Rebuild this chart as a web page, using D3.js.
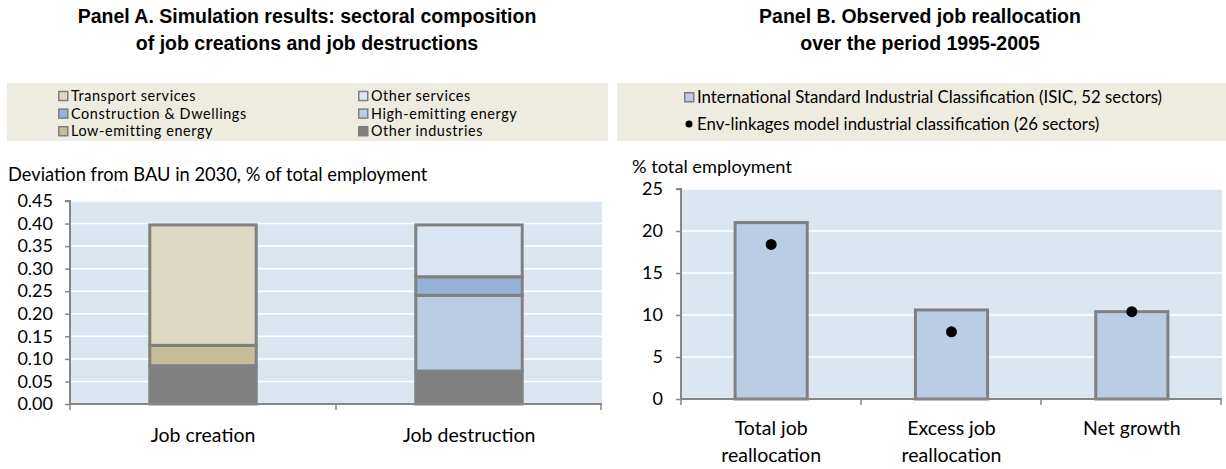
<!DOCTYPE html>
<html>
<head>
<meta charset="utf-8">
<script src="https://cdn.jsdelivr.net/npm/d3@7"></script>
<style>
body { margin:0; background:#fff; }
svg text { font-family: Lato, "Open Sans", sans-serif; fill:#000; }
svg text.title { font-family: "Liberation Sans", Arial, sans-serif; font-weight:bold; font-size:19.5px; }
</style>
</head>
<body>
<svg id="chart" width="1226" height="469"></svg>
<script>
// panel A data
var stackCats = ["Job creation", "Job destruction"];
var sectors = ["Other industries", "Low-emitting energy", "High-emitting energy", "Construction & Dwellings", "Transport services", "Other services"];
var otherIndustries = [0.085, 0.073];
var lowEmitting = [0.045, 0];
var highEmitting = [0, 0.168];
var construction = [0, 0.041];
var transport = [0.267, 0];
var otherServices = [0, 0.115];
var yTicksA = [0, 0.05, 0.10, 0.15, 0.20, 0.25, 0.30, 0.35, 0.40, 0.45];

// panel B data
var reallocCats = [["Total job", "reallocation"], ["Excess job", "reallocation"], ["Net growth"]];
var isicValues = [21.0, 10.6, 10.4];
var envValues = [18.4, 8.0, 10.4];
var yTicksB = [0, 5, 10, 15, 20, 25];

var colors = {
	"Other industries": "#808080",
	"Low-emitting energy": "#c4bd97",
	"High-emitting energy": "#b9cde5",
	"Construction & Dwellings": "#95b3d7",
	"Transport services": "#ddd9c3",
	"Other services": "#dce6f2"
};
var legendOrder = [["Transport services", "Other services"], ["Construction & Dwellings", "High-emitting energy"], ["Low-emitting energy", "Other industries"]];

var svg = d3.select("#chart");

// titles
function title(cx, lines) {
	svg.append("text").attr("class", "title").attr("x", cx).attr("y", 23).attr("text-anchor", "middle").text(lines[0]);
	svg.append("text").attr("class", "title").attr("x", cx).attr("y", 50).attr("text-anchor", "middle").text(lines[1]);
}
title(307, ["Panel A. Simulation results: sectoral composition", "of job creations and job destructions"]);
title(920, ["Panel B. Observed job reallocation", "over the period 1995-2005"]);

// legend boxes
svg.append("rect").attr("x", 7).attr("y", 83).attr("width", 601).attr("height", 58).attr("fill", "#eeece1");
svg.append("rect").attr("x", 617).attr("y", 83).attr("width", 609).attr("height", 58).attr("fill", "#eeece1");

legendOrder.forEach(function(row, i) {
	row.forEach(function(name, j) {
		var lx = j == 0 ? 58 : 358, cy = 96 + i * 17.6;
		svg.append("rect").attr("x", lx + 0.75).attr("y", cy - 4.5).attr("width", 9).attr("height", 9)
			.attr("fill", colors[name]).attr("stroke", "#7f7f7f").attr("stroke-width", 1.5);
		svg.append("text").attr("x", lx + 13).attr("y", cy + 5).style("font-size", "14.4px")
			.style("letter-spacing", "0.6px").text(name);
	});
});
svg.append("rect").attr("x", 684.75).attr("y", 92.75).attr("width", 9).attr("height", 9)
	.attr("fill", "#b9cde5").attr("stroke", "#7f7f7f").attr("stroke-width", 1.5);
svg.append("text").attr("x", 697).attr("y", 103).style("font-size", "16.8px").text("International Standard Industrial Classification (ISIC, 52 sectors)");
svg.append("circle").attr("cx", 689).attr("cy", 124).attr("r", 3.5).attr("fill", "#000");
svg.append("text").attr("x", 697).attr("y", 130).style("font-size", "16.8px").text("Env-linkages model industrial classification (26 sectors)");

// ---------- Panel A ----------
var xA = d3.scaleBand().domain(stackCats).range([70, 602]).paddingInner(0.6).paddingOuter(0.3);
var yA = d3.scaleLinear().domain([0, 0.45]).range([404, 201]);

svg.append("rect").attr("x", 70).attr("y", yA(0.45)).attr("width", 532).attr("height", yA(0) - yA(0.45)).attr("fill", "#dce6f1");
svg.selectAll(".gridA").data(yTicksA.slice(1)).enter().append("line")
	.attr("x1", 70).attr("x2", 602).attr("y1", function(d) { return yA(d); }).attr("y2", function(d) { return yA(d); })
	.attr("stroke", "#fff").attr("stroke-width", 1.5);

var seriesA = {
	"Other industries": otherIndustries,
	"Low-emitting energy": lowEmitting,
	"High-emitting energy": highEmitting,
	"Construction & Dwellings": construction,
	"Transport services": transport,
	"Other services": otherServices
};
var tableA = stackCats.map(function(c, i) {
	var row = { cat: c };
	sectors.forEach(function(s) { row[s] = seriesA[s][i]; });
	return row;
});
var stacked = d3.stack().keys(sectors)(tableA);
stacked.forEach(function(layer) {
	svg.selectAll(null).data(layer.filter(function(d) { return d[1] - d[0] > 0; })).enter().append("rect")
		.attr("x", function(d) { return xA(d.data.cat); })
		.attr("y", function(d) { return yA(d[1]); })
		.attr("width", xA.bandwidth())
		.attr("height", function(d) { return yA(d[0]) - yA(d[1]); })
		.attr("fill", colors[layer.key])
		.attr("stroke", "#808080").attr("stroke-width", 3);
});

var axisA = d3.axisLeft(yA).tickValues(yTicksA).tickFormat(d3.format(".2f")).tickSize(5);
var gA = svg.append("g").attr("transform", "translate(70,0)").call(axisA);
gA.select(".domain").attr("stroke", "#868686").attr("stroke-width", 2).attr("d", "M-5," + yA(0.45) + "H0V" + yA(0));
gA.selectAll(".tick line").attr("stroke", "#868686").attr("stroke-width", 1.5);
gA.selectAll(".tick text").style("font-size", "18px").attr("x", -17);

svg.append("line").attr("x1", 69).attr("x2", 602).attr("y1", yA(0)).attr("y2", yA(0)).attr("stroke", "#868686").attr("stroke-width", 2);
[70, 336, 601].forEach(function(tx) {
	svg.append("line").attr("x1", tx).attr("x2", tx).attr("y1", yA(0)).attr("y2", yA(0) + 6).attr("stroke", "#868686").attr("stroke-width", 1.5);
});
svg.selectAll(".catA").data(stackCats).enter().append("text")
	.attr("x", function(d) { return xA(d) + xA.bandwidth() / 2; }).attr("y", 442)
	.attr("text-anchor", "middle").style("font-size", "19.5px").text(function(d) { return d; });

svg.append("text").attr("x", 8).attr("y", 181).style("font-size", "18.3px").text("Deviation from BAU in 2030, % of total employment");

// ---------- Panel B ----------
var catKeys = reallocCats.map(function(d) { return d.join(" "); });
var xB = d3.scaleBand().domain(catKeys).range([681, 1222]).paddingInner(0.6).paddingOuter(0.3);
var yB = d3.scaleLinear().domain([0, 25]).range([399, 189]);

svg.append("rect").attr("x", 681).attr("y", yB(25)).attr("width", 541).attr("height", yB(0) - yB(25)).attr("fill", "#dce6f1");
svg.selectAll(".gridB").data(yTicksB.slice(1)).enter().append("line")
	.attr("x1", 681).attr("x2", 1222).attr("y1", function(d) { return yB(d); }).attr("y2", function(d) { return yB(d); })
	.attr("stroke", "#fff").attr("stroke-width", 1.5);

svg.selectAll(".barB").data(isicValues).enter().append("rect")
	.attr("x", function(d, i) { return xB(catKeys[i]); })
	.attr("y", function(d) { return yB(d); })
	.attr("width", xB.bandwidth())
	.attr("height", function(d) { return yB(0) - yB(d); })
	.attr("fill", "#b9cde5").attr("stroke", "#808080").attr("stroke-width", 3);

var axisB = d3.axisLeft(yB).tickValues(yTicksB).tickSize(5);
var gB = svg.append("g").attr("transform", "translate(681,0)").call(axisB);
gB.select(".domain").attr("stroke", "#868686").attr("stroke-width", 2).attr("d", "M-5," + yB(25) + "H0V" + yB(0));
gB.selectAll(".tick line").attr("stroke", "#868686").attr("stroke-width", 1.5);
gB.selectAll(".tick text").style("font-size", "18px").attr("x", -18);

svg.append("line").attr("x1", 680).attr("x2", 1222).attr("y1", yB(0)).attr("y2", yB(0)).attr("stroke", "#868686").attr("stroke-width", 2);
[681, 861, 1041, 1221].forEach(function(tx) {
	svg.append("line").attr("x1", tx).attr("x2", tx).attr("y1", yB(0)).attr("y2", yB(0) + 6).attr("stroke", "#868686").attr("stroke-width", 1.5);
});

svg.selectAll(".dotB").data(envValues).enter().append("circle")
	.attr("cx", function(d, i) { return xB(catKeys[i]) + xB.bandwidth() / 2; })
	.attr("cy", function(d) { return yB(d); })
	.attr("r", 5.5).attr("fill", "#000");

reallocCats.forEach(function(lines, i) {
	var cx = xB(catKeys[i]) + xB.bandwidth() / 2;
	var t = svg.append("text").attr("x", cx).attr("y", 435)
		.attr("text-anchor", "middle").style("font-size", "19.5px");
	lines.forEach(function(l, k) {
		t.append("tspan").attr("x", cx).attr("dy", k == 0 ? 0 : 27).text(l);
	});
});

svg.append("text").attr("x", 632).attr("y", 173).style("font-size", "18.2px").text("% total employment");
</script>
</body>
</html>
